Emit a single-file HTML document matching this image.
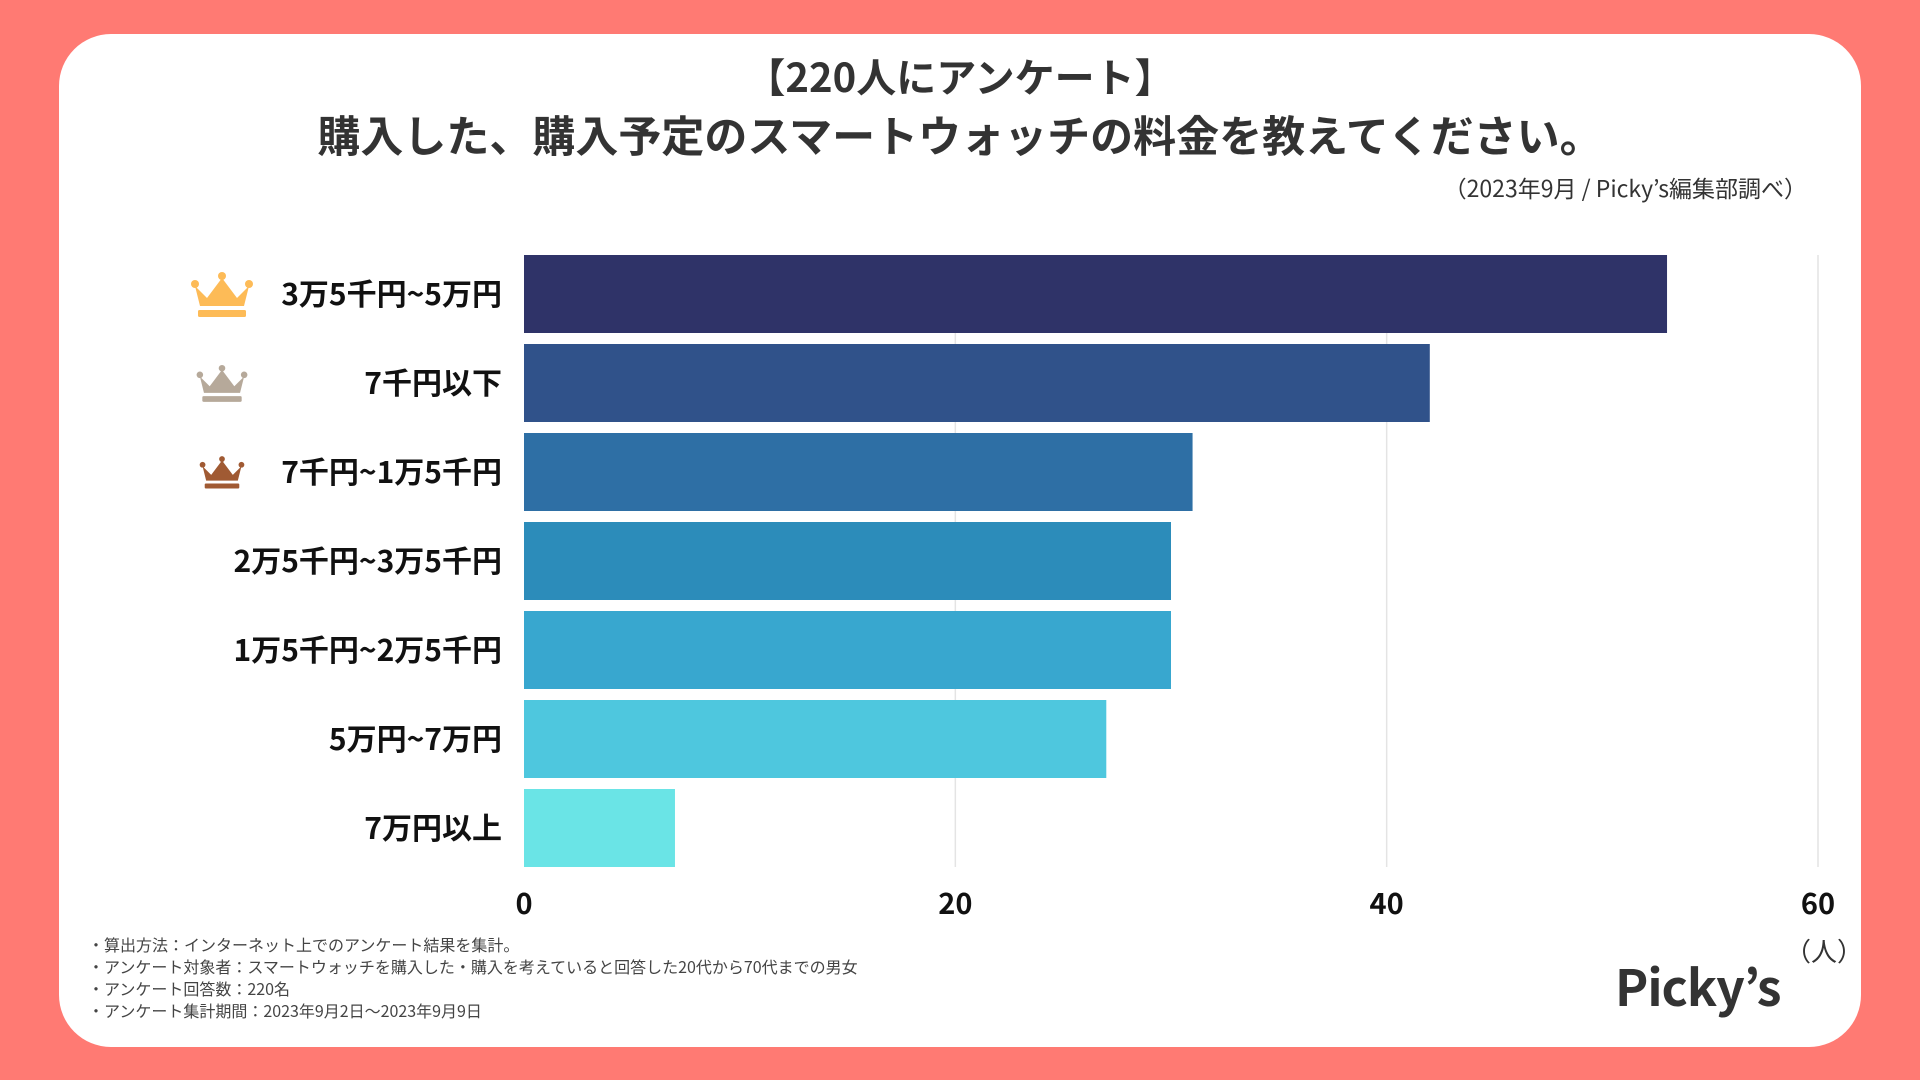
<!DOCTYPE html>
<html><head><meta charset="utf-8"><style>
body{margin:0;width:1920px;height:1080px;background:#ff7a73;overflow:hidden;font-family:"Noto Sans CJK JP","Liberation Sans",sans-serif;}
#card{position:absolute;left:59px;top:34px;width:1802px;height:1013px;background:#fff;border-radius:52px;}
.t{position:absolute;white-space:nowrap;color:#333;}
</style></head><body>
<div id="card"></div>
<div class="t" style="left:0;width:1920px;text-align:center;top:51px;font-size:40px;line-height:1.2;font-weight:bold;">【220人にアンケート】</div>
<div class="t" style="left:0;width:1920px;text-align:center;top:109px;font-size:43px;line-height:1.2;font-weight:bold;">購入した、購入予定のスマートウォッチの料金を教えてください。</div>
<div class="t" style="right:113px;top:173px;font-size:23px;line-height:1.3;">（2023年9月 / Picky’s編集部調べ）</div>
<svg id="chart" width="1920" height="1080" style="position:absolute;left:0;top:0;font-family:'Noto Sans CJK JP','Liberation Sans',sans-serif"></svg>
<div class="t" style="left:88px;top:933px;font-size:16px;line-height:22px;color:#444;">・算出方法：インターネット上でのアンケート結果を集計。<br>・アンケート対象者：スマートウォッチを購入した・購入を考えていると回答した20代から70代までの男女<br>・アンケート回答数：220名<br>・アンケート集計期間：2023年9月2日〜2023年9月9日</div>
<div class="t" style="left:1615px;top:955px;font-size:50px;line-height:1.2;font-weight:bold;color:#333;letter-spacing:-1px;">Picky’s</div>
<script>
const categories=["3万5千円~5万円","7千円以下","7千円~1万5千円","2万5千円~3万5千円","1万5千円~2万5千円","5万円~7万円","7万円以上"];
const values=[53,42,31,30,30,27,7];
const colors=["#2f3368","#30528a","#2e6fa5","#2c8cba","#38a7cf","#4ec7de","#6ae4e6"];
const ticks=[0,20,40,60];
const crownColors=["#fdbb57","#b6a99a","#a05a33"];
const NS="http://www.w3.org/2000/svg";
const svg=document.getElementById('chart');
const X0=524,X1=1818,MAX=60,Y0=255,PITCH=89,BH=78;
const xs=v=>X0+(X1-X0)*v/MAX;
function mk(t,a){const e=document.createElementNS(NS,t);for(const k in a)e.setAttribute(k,a[k]);svg.appendChild(e);return e;}
ticks.forEach(t=>{
  if(t>0){const g=mk('line',{x1:xs(t),x2:xs(t),y1:Y0,y2:Y0+PITCH*6+BH,stroke:'#e4e4e4','stroke-width':1.5});
  
  }
  const l=mk('text',{x:xs(t),y:914,'text-anchor':'middle','font-size':29,'font-weight':'bold',fill:'#111'});
  l.textContent=t;
  
  
});
const u=mk('text',{x:1824,y:961,'text-anchor':'middle','font-size':26,fill:'#333'});
u.textContent='（人）';


categories.forEach((c,i)=>{
  const y=Y0+i*PITCH;
  const r=mk('rect',{x:X0,y:y,width:xs(values[i])-X0,height:BH,fill:colors[i]});
  
  
  const t=mk('text',{x:502,y:y+BH/2+11,'text-anchor':'end','font-size':30,'font-weight':'bold',fill:'#111'});
  t.textContent=c;
  
  
  if(i<3){
    const sc=[1,0.82,0.72][i],cx=222,cy=y+BH/2;
    const g=document.createElementNS(NS,'g');svg.appendChild(g);
    g.setAttribute('transform',`translate(${cx},${cy}) scale(${sc})`);
    
    
    const col=crownColors[i];
    g.innerHTML=`<path d="M-27,-8 L-15,4 L0,-16 L15,4 L27,-8 L22,12 L-22,12 Z" fill="${col}"/><circle cx="-27" cy="-10" r="4" fill="${col}"/><circle cx="0" cy="-18" r="4" fill="${col}"/><circle cx="27" cy="-10" r="4" fill="${col}"/><rect x="-24" y="16" width="48" height="7" rx="1.5" fill="${col}"/>`;
  }
});
</script>
</body></html>
